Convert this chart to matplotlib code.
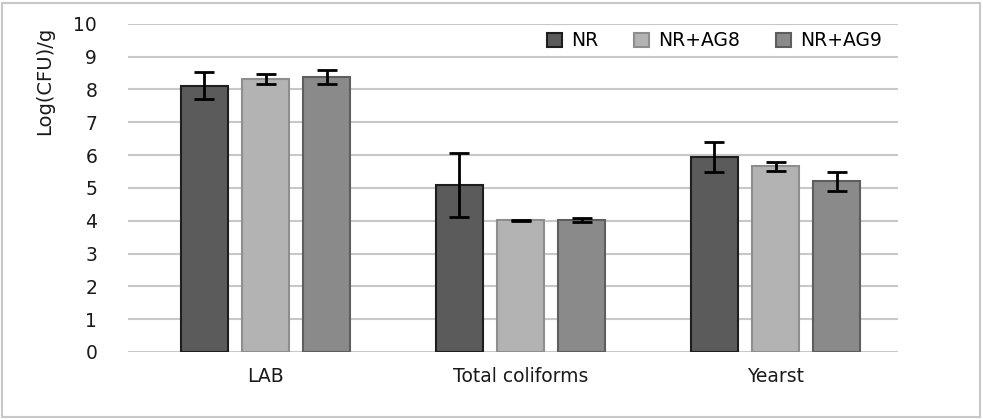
import matplotlib
matplotlib.use("Agg")
import matplotlib.pyplot as plt
import numpy as np
from matplotlib.patches import Rectangle

categories = ["LAB", "Total coliforms", "Yearst"]
series_names = ["NR", "NR+AG8", "NR+AG9"]
nr = [8.12, 5.08, 5.95]
nr_err = [0.40, 0.98, 0.45]
ag8 = [8.32, 4.01, 5.66]
ag8_err = [0.14, 0.02, 0.13]
ag9 = [8.38, 4.02, 5.21]
ag9_err = [0.21, 0.05, 0.29]
yticks = list(range(0, 11))

values = [nr, ag8, ag9]
errors = [nr_err, ag8_err, ag9_err]
colors = ["#5b5b5b", "#b3b3b3", "#8a8a8a"]
edges = ["#1e1e1e", "#8e8e8e", "#5e5e5e"]

fig = plt.figure(figsize=(9.83, 4.19), dpi=100)
fig.patches.append(Rectangle((0.002, 0.004), 0.995, 0.99, transform=fig.transFigure,
                             fill=False, edgecolor="#c8c8c8", linewidth=1.5))
ax = fig.add_axes([0.130, 0.160, 0.7835, 0.783])

x = np.arange(len(categories))
width = 0.185
offsets = [-0.24, 0.0, 0.24]
for vals, errs, c, ec, off, name in zip(values, errors, colors, edges, offsets, series_names):
    ax.bar(x + off, vals, width, color=c, edgecolor=ec, linewidth=1.5, label=name, zorder=3)
    ax.errorbar(x + off, vals, yerr=errs, fmt="none", ecolor="black", elinewidth=2,
                capsize=7, capthick=2, zorder=4)

ax.set_xlim(-0.54, 2.48)
ax.set_ylim(0, 10)
ax.set_yticks(yticks)
ax.set_xticks(x)
ax.set_xticklabels(categories)
ax.tick_params(axis="both", length=0, labelsize=13.5, colors="#1a1a1a")
ax.tick_params(axis="y", pad=22)
ax.tick_params(axis="x", pad=11)
ax.yaxis.grid(True, color="#c8c8c8", linewidth=1.5, zorder=0)
ax.set_axisbelow(True)
for s in ax.spines.values():
    s.set_visible(False)
ax.set_ylabel("Log(CFU)/g", fontsize=14, color="#1a1a1a")
ax.yaxis.set_label_coords(-0.095, 0.825)

leg = ax.legend(loc="center", bbox_to_anchor=(0.762, 0.948), ncol=3, frameon=False,
                fontsize=13.5, handlelength=0.8, handleheight=0.8, columnspacing=1.9,
                handletextpad=0.5)

fig.savefig("out.png", dpi=100)
